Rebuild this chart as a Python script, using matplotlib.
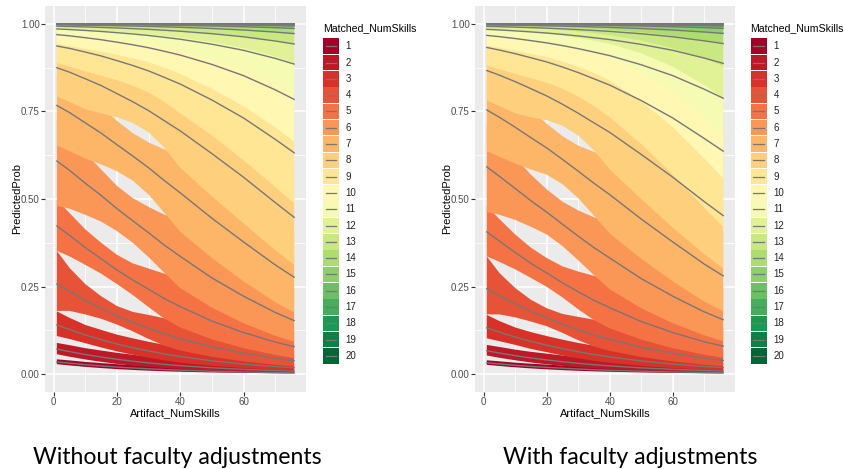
import numpy as np
import matplotlib
matplotlib.use("Agg")
import matplotlib.pyplot as plt
from matplotlib.patches import Rectangle
from matplotlib.lines import Line2D

plt.rcParams['font.family'] = ['Liberation Sans', 'DejaVu Sans']

W, H = 845, 469

artifact_numskills = [1, 5, 10, 15, 20, 25, 30, 35, 40, 50, 60, 70, 76]
matched_numskills = list(range(1, 21))

# ---- Without faculty adjustments: predicted probability and band per Matched_NumSkills ----
prob_without = [
    [.0353, .0317, .0274, .0239, .0206, .0180, .0157, .0135, .0118, .0088, .0067, .0050, .0042],
    [.0718, .0648, .0563, .0493, .0427, .0374, .0326, .0282, .0246, .0185, .0141, .0106, .0089],
    [.1407, .1279, .1121, .0989, .0863, .0759, .0667, .0579, .0508, .0384, .0293, .0221, .0187],
    [.2573, .2369, .2109, .1885, .1666, .1482, .1313, .1152, .1016, .0781, .0601, .0457, .0388],
    [.4231, .3965, .3612, .3296, .2974, .2689, .2424, .2159, .1931, .1519, .1192, .0920, .0788],
    [.6083, .5818, .5449, .5100, .4725, .4378, .4037, .3682, .3363, .2749, .2228, .1765, .1532],
    [.7667, .7465, .7171, .6878, .6548, .6225, .5890, .5523, .5175, .4452, .3775, .3122, .2769],
    [.8744, .8618, .8429, .8235, .8006, .7773, .7521, .7231, .6942, .6295, .5622, .4900, .4477],
    [.9364, .9296, .9191, .9080, .8947, .8808, .8653, .8469, .8278, .7824, .7311, .6704, .6318],
    [.9689, .9654, .9600, .9543, .9473, .9399, .9315, .9213, .9105, .8839, .8519, .8115, .7842],
    [.9851, .9834, .9808, .9779, .9744, .9707, .9664, .9612, .9557, .9416, .9241, .9011, .8849],
    [.9929, .9921, .9908, .9894, .9878, .9859, .9839, .9813, .9785, .9715, .9627, .9507, .9421],
    [.9966, .9962, .9956, .9950, .9942, .9933, .9923, .9911, .9897, .9863, .9820, .9761, .9718],
    [.9984, .9982, .9979, .9976, .9972, .9968, .9964, .9958, .9951, .9935, .9914, .9886, .9865],
    [.9992, .9991, .9990, .9989, .9987, .9985, .9983, .9980, .9977, .9969, .9959, .9946, .9936],
    [.9996, .9996, .9995, .9995, .9994, .9993, .9992, .9991, .9989, .9985, .9981, .9974, .9969],
    [.9998, .9998, .9998, .9998, .9997, .9997, .9996, .9996, .9995, .9993, .9991, .9988, .9986],
    [.9999, .9999, .9999, .9999, .9999, .9998, .9998, .9998, .9998, .9997, .9996, .9995, .9993],
    [1.000, 1.000, 1.000, .9999, .9999, .9999, .9999, .9999, .9999, .9999, .9998, .9998, .9997],
    [1.000, 1.000, 1.000, 1.000, 1.000, 1.000, 1.000, 1.000, 1.000, .9999, .9999, .9999, .9999],
]
lower_without = [
    [.0290, .0253, .0212, .0178, .0148, .0124, .0104, .0087, .0073, .0054, .0040, .0029, .0024],
    [.0573, .0502, .0423, .0356, .0296, .0248, .0210, .0177, .0151, .0111, .0083, .0061, .0050],
    [.1091, .1007, .0887, .0766, .0654, .0558, .0474, .0396, .0332, .0241, .0177, .0129, .0107],
    [.1809, .1809, .1708, .1584, .1419, .1224, .1007, .0817, .0679, .0497, .0366, .0269, .0223],
    [.3521, .3363, .3122, .2870, .2573, .2262, .1915, .1584, .1336, .0998, .0745, .0552, .0461],
    [.4800, .4725, .4551, .4354, .4085, .3752, .3340, .2891, .2461, .1900, .1456, .1100, .0928],
    [.6525, .6364, .6154, .5987, .5793, .5523, .5125, .4601, .4061, .3318, .2650, .2059, .1765],
    [.7925, .7773, .7558, .7446, .7330, .7171, .6900, .6457, .5890, .5075, .4305, .3543, .3122],
    [.8880, .8776, .8641, .8519, .8389, .8235, .8038, .7773, .7446, .6814, .6106, .5349, .4875],
    [.9421, .9364, .9282, .9205, .9114, .9011, .8899, .8744, .8569, .8146, .7649, .7047, .6637],
    [.9710, .9680, .9634, .9589, .9535, .9478, .9416, .9328, .9234, .8985, .8676, .8278, .7990],
    [.9855, .9840, .9817, .9794, .9763, .9734, .9698, .9654, .9604, .9473, .9302, .9064, .8880],
    [.9928, .9921, .9909, .9896, .9881, .9865, .9846, .9824, .9798, .9732, .9644, .9521, .9421],
    [.9965, .9961, .9955, .9949, .9941, .9933, .9923, .9912, .9899, .9865, .9820, .9756, .9707],
    [.9982, .9980, .9977, .9973, .9969, .9965, .9960, .9953, .9946, .9928, .9905, .9874, .9851],
    [.9991, .9990, .9989, .9987, .9985, .9982, .9980, .9977, .9973, .9964, .9953, .9937, .9925],
    [.9996, .9995, .9994, .9993, .9992, .9991, .9990, .9989, .9987, .9982, .9976, .9969, .9963],
    [.9998, .9998, .9997, .9997, .9996, .9996, .9996, .9995, .9994, .9992, .9990, .9986, .9981],
    [.9999, .9999, .9999, .9999, .9998, .9998, .9998, .9998, .9997, .9997, .9995, .9994, .9992],
    [1.000, 1.000, .9999, .9999, .9999, .9999, .9999, .9999, .9999, .9998, .9998, .9997, .9996],
]
upper_without = [
    [.0427, .0396, .0353, .0320, .0288, .0261, .0236, .0211, .0189, .0145, .0113, .0088, .0075],
    [.0895, .0832, .0745, .0678, .0613, .0558, .0503, .0448, .0400, .0308, .0239, .0183, .0158],
    [.1795, .1612, .1407, .1267, .1131, .1026, .0928, .0840, .0766, .0607, .0484, .0377, .0326],
    [.3521, .3036, .2573, .2228, .1947, .1780, .1694, .1598, .1495, .1203, .0971, .0766, .0667],
    [.4975, .4601, .4134, .3752, .3407, .3165, .3016, .2870, .2709, .2244, .1854, .1495, .1312],
    [.7231, .6835, .6318, .5842, .5374, .5025, .4775, .4551, .4403, .3799, .3252, .2709, .2424],
    [.8519, .8320, .8006, .7649, .7231, .6878, .6615, .6411, .6271, .5646, .5050, .4428, .4061],
    [.9268, .9176, .9029, .8818, .8545, .8278, .8053, .7892, .7824, .7369, .6857, .6271, .5915],
    [.9648, .9604, .9530, .9443, .9328, .9213, .9097, .8975, .8880, .8581, .8249, .7824, .7558],
    [.9835, .9815, .9781, .9742, .9692, .9641, .9581, .9517, .9453, .9296, .9105, .8859, .8699],
    [.9924, .9914, .9899, .9882, .9861, .9837, .9809, .9779, .9746, .9671, .9577, .9453, .9370],
    [.9965, .9961, .9954, .9946, .9937, .9926, .9914, .9899, .9885, .9848, .9804, .9747, .9710],
    [.9984, .9982, .9979, .9976, .9972, .9967, .9962, .9955, .9948, .9931, .9910, .9882, .9865],
    [.9993, .9992, .9991, .9990, .9987, .9985, .9983, .9980, .9977, .9969, .9959, .9947, .9938],
    [.9997, .9996, .9996, .9995, .9994, .9994, .9993, .9992, .9990, .9987, .9983, .9977, .9972],
    [.9998, .9998, .9998, .9998, .9997, .9997, .9997, .9996, .9995, .9994, .9992, .9990, .9987],
    [.9999, .9999, .9999, .9999, .9999, .9999, .9998, .9998, .9998, .9997, .9996, .9995, .9994],
    [1.000, 1.000, 1.000, 1.000, 1.000, .9999, .9999, .9999, .9999, .9999, .9999, .9998, .9998],
    [1.000, 1.000, 1.000, 1.000, 1.000, 1.000, 1.000, 1.000, 1.000, 1.000, 1.000, 1.000, 1.000],
    [1.000, 1.000, 1.000, 1.000, 1.000, 1.000, 1.000, 1.000, 1.000, 1.000, 1.000, 1.000, 1.000],
]

# ---- With faculty adjustments ----
prob_with = [
    [.0329, .0296, .0258, .0225, .0198, .0173, .0151, .0131, .0115, .0088, .0067, .0051, .0043],
    [.0672, .0607, .0532, .0465, .0411, .0359, .0314, .0274, .0241, .0183, .0141, .0107, .0091],
    [.1324, .1203, .1062, .0937, .0832, .0732, .0642, .0563, .0497, .0381, .0293, .0223, .0190],
    [.2442, .2244, .2010, .1795, .1612, .1431, .1267, .1121, .0998, .0773, .0601, .0461, .0396],
    [.4061, .3799, .3475, .3165, .2891, .2611, .2351, .2109, .1900, .1506, .1192, .0928, .0802],
    [.5915, .5646, .5300, .4950, .4626, .4280, .3941, .3612, .3318, .2729, .2228, .1780, .1558],
    [.7540, .7330, .7047, .6748, .6457, .6130, .5793, .5449, .5125, .4428, .3775, .3143, .2808],
    [.8664, .8532, .8348, .8146, .7941, .7703, .7446, .7171, .6900, .6271, .5622, .4925, .4526],
    [.9321, .9248, .9145, .9029, .8909, .8765, .8606, .8429, .8249, .7808, .7311, .6726, .6365],
    [.9667, .9630, .9577, .9517, .9453, .9376, .9289, .9191, .9089, .8829, .8519, .8131, .7875],
    [.9840, .9822, .9796, .9766, .9734, .9695, .9651, .9600, .9548, .9410, .9241, .9020, .8869],
    [.9924, .9915, .9902, .9888, .9873, .9854, .9832, .9808, .9781, .9713, .9627, .9512, .9433],
    [.9964, .9960, .9954, .9947, .9939, .9930, .9920, .9908, .9895, .9862, .9820, .9763, .9723],
    [.9983, .9981, .9978, .9975, .9971, .9967, .9962, .9956, .9950, .9934, .9914, .9887, .9867],
    [.9992, .9991, .9990, .9988, .9986, .9984, .9982, .9979, .9976, .9969, .9959, .9946, .9937],
    [.9996, .9996, .9995, .9994, .9994, .9993, .9991, .9990, .9989, .9985, .9981, .9975, .9970],
    [.9998, .9998, .9998, .9997, .9997, .9997, .9996, .9996, .9995, .9993, .9991, .9988, .9986],
    [.9999, .9999, .9999, .9999, .9999, .9998, .9998, .9998, .9998, .9997, .9996, .9995, .9994],
    [1.000, 1.000, 1.000, .9999, .9999, .9999, .9999, .9999, .9999, .9999, .9998, .9998, .9998],
    [1.000, 1.000, 1.000, 1.000, 1.000, 1.000, 1.000, 1.000, 1.000, .9999, .9999, .9999, .9999],
]
lower_with = [
    [.0271, .0236, .0200, .0168, .0142, .0119, .0100, .0084, .0072, .0053, .0040, .0029, .0024],
    [.0537, .0470, .0400, .0336, .0285, .0239, .0202, .0171, .0148, .0110, .0083, .0061, .0051],
    [.1025, .0945, .0840, .0724, .0630, .0537, .0457, .0384, .0326, .0239, .0177, .0130, .0109],
    [.1708, .1708, .1625, .1506, .1371, .1182, .0971, .0794, .0667, .0493, .0366, .0271, .0228],
    [.3363, .3208, .2994, .2749, .2497, .2193, .1854, .1545, .1312, .0989, .0745, .0558, .0470],
    [.4626, .4551, .4403, .4207, .3989, .3659, .3252, .2829, .2424, .1885, .1456, .1111, .0945],
    [.6365, .6201, .6011, .5842, .5695, .5424, .5025, .4526, .4013, .3296, .2650, .2075, .1795],
    [.7808, .7649, .7446, .7330, .7251, .7089, .6814, .6388, .5842, .5000, .4182, .3430, .3015],
    [.8808, .8699, .8569, .8442, .8320, .8146, .7925, .7649, .7330, .6570, .5695, .4750, .4207],
    [.9376, .9315, .9227, .9137, .9047, .8919, .8776, .8593, .8375, .7790, .7047, .6154, .5597],
    [.9683, .9648, .9597, .9539, .9478, .9393, .9296, .9168, .9029, .8618, .8053, .7311, .6814],
    [.9839, .9818, .9790, .9754, .9715, .9661, .9597, .9517, .9427, .9160, .8776, .8249, .7875],
    [.9918, .9907, .9891, .9870, .9846, .9815, .9777, .9729, .9674, .9517, .9296, .9002, .8797],
    [.9958, .9952, .9943, .9932, .9918, .9901, .9881, .9857, .9829, .9756, .9661, .9535, .9448],
    [.9979, .9976, .9972, .9966, .9959, .9951, .9941, .9928, .9914, .9878, .9831, .9768, .9723],
    [.9990, .9988, .9986, .9983, .9980, .9976, .9970, .9964, .9957, .9939, .9916, .9885, .9861],
    [.9995, .9994, .9993, .9992, .9990, .9988, .9985, .9982, .9978, .9967, .9955, .9936, .9930],
    [.9998, .9998, .9997, .9996, .9996, .9995, .9994, .9993, .9991, .9986, .9980, .9972, .9967],
    [.9999, .9999, .9999, .9998, .9998, .9998, .9997, .9997, .9996, .9994, .9991, .9988, .9985],
    [1.000, 1.000, .9999, .9999, .9999, .9999, .9999, .9998, .9998, .9997, .9996, .9995, .9993],
]
upper_with = [
    [.0399, .0370, .0332, .0302, .0277, .0251, .0228, .0204, .0185, .0143, .0113, .0088, .0077],
    [.0838, .0780, .0704, .0641, .0590, .0537, .0484, .0435, .0392, .0305, .0239, .0185, .0161],
    [.1694, .1519, .1336, .1203, .1091, .0989, .0895, .0817, .0752, .0601, .0484, .0381, .0332],
    [.3363, .2891, .2461, .2125, .1885, .1722, .1638, .1558, .1468, .1192, .0971, .0773, .0679],
    [.4800, .4428, .3989, .3612, .3318, .3079, .2932, .2808, .2669, .2228, .1854, .1506, .1336],
    [.7089, .6682, .6177, .5695, .5275, .4925, .4675, .4477, .4354, .3775, .3252, .2729, .2461],
    [.8429, .8220, .7908, .7540, .7150, .6792, .6525, .6341, .6225, .5622, .5050, .4452, .4110],
    [.9220, .9121, .8975, .8755, .8494, .8220, .7990, .7841, .7790, .7389, .6964, .6434, .6130],
    [.9623, .9577, .9503, .9410, .9309, .9198, .9089, .8985, .8899, .8688, .8481, .8235, .8085],
    [.9825, .9804, .9772, .9734, .9692, .9648, .9597, .9548, .9507, .9416, .9328, .9220, .9153],
    [.9920, .9911, .9897, .9882, .9866, .9849, .9830, .9813, .9796, .9761, .9729, .9689, .9664],
    [.9964, .9960, .9955, .9949, .9944, .9938, .9931, .9925, .9918, .9905, .9893, .9878, .9867],
    [.9984, .9983, .9980, .9978, .9976, .9974, .9972, .9969, .9967, .9962, .9956, .9947, .9941],
    [.9993, .9992, .9992, .9991, .9990, .9989, .9988, .9987, .9986, .9983, .9979, .9973, .9969],
    [.9997, .9997, .9996, .9996, .9995, .9995, .9994, .9993, .9993, .9992, .9990, .9987, .9985],
    [.9999, .9999, .9998, .9998, .9998, .9998, .9998, .9997, .9997, .9996, .9995, .9994, .9993],
    [.9999, .9999, .9999, .9999, .9999, .9999, .9999, .9999, .9999, .9998, .9998, .9997, .9997],
    [1.000, 1.000, 1.000, 1.000, .9999, .9999, .9999, .9999, .9999, .9999, .9999, .9999, .9999],
    [1.000, 1.000, 1.000, 1.000, 1.000, 1.000, 1.000, 1.000, 1.000, 1.000, 1.000, 1.000, 1.000],
    [1.000, 1.000, 1.000, 1.000, 1.000, 1.000, 1.000, 1.000, 1.000, 1.000, 1.000, 1.000, 1.000],
]

x_ticks = [0, 20, 40, 60]
y_ticks = [0.00, 0.25, 0.50, 0.75, 1.00]
y_tick_labels = ["0.00", "0.25", "0.50", "0.75", "1.00"]

PANEL_BG = "#EBEBEB"
LINE_COL = "#777777"
TICK_COL = "#4D4D4D"
palette = [plt.get_cmap("RdYlGn")(v) for v in np.linspace(0, 1, len(matched_numskills))]

fig = plt.figure(figsize=(W / 100, H / 100), dpi=100)


def fx(px):
    return px / W


def fy(py):
    return 1 - py / H


def draw_panel(box, prob, lower, upper):
    left, top, right, bottom = box
    ax = fig.add_axes([fx(left), fy(bottom), fx(right) - fx(left), fy(top) - fy(bottom)])
    ax.set_facecolor(PANEL_BG)
    ax.set_xlim(-2.75, 79.75)
    ax.set_ylim(-0.0505, 1.0505)
    ax.set_xticks(x_ticks)
    ax.set_xticks([10, 30, 50, 70], minor=True)
    ax.set_yticks(y_ticks)
    ax.set_yticklabels(y_tick_labels)
    ax.set_yticks([0.125, 0.375, 0.625, 0.875], minor=True)
    ax.set_axisbelow(True)
    ax.grid(which="major", color="white", linewidth=1.1)
    ax.grid(which="minor", color="white", linewidth=0.55)
    for s in ax.spines.values():
        s.set_visible(False)
    ax.tick_params(which="major", length=2.6, width=0.8, color="#333333",
                   labelsize=7, labelcolor=TICK_COL, pad=1.2)
    ax.tick_params(which="minor", length=0)
    for i, col in enumerate(palette):
        ax.fill_between(artifact_numskills, lower[i], upper[i], facecolor=col,
                        edgecolor="none", linewidth=0, zorder=2)
    for i in range(len(matched_numskills)):
        ax.plot(artifact_numskills, prob[i], color=LINE_COL, linewidth=1.0,
                solid_joinstyle="round", zorder=3)
    cx = (left + right) / 2
    fig.text(fx(cx), fy(413.5), "Artifact_NumSkills", ha="center", va="center",
             fontsize=8, color="black")
    fig.text(fx(left - 28), fy((top + bottom) / 2), "PredictedProb", ha="center",
             va="center", rotation=90, fontsize=8, color="black")
    return ax


def draw_legend(x0):
    fig.text(fx(x0 - 0.5), fy(28), "Matched_NumSkills", ha="left", va="center",
             fontsize=7.6, color="black")
    pitch = 16.3
    for i, col in enumerate(palette):
        top = 38.5 + pitch * i
        fig.add_artist(Rectangle((fx(x0), fy(top + pitch - 0.8)), fx(15.6),
                                 (pitch - 0.8) / H, transform=fig.transFigure,
                                 facecolor=col, edgecolor="none"))
        yc = fy(top + (pitch - 0.8) / 2)
        fig.add_artist(Line2D([fx(x0 + 2.5), fx(x0 + 13)], [yc, yc],
                              transform=fig.transFigure, color=LINE_COL,
                              linewidth=0.9))
        fig.text(fx(x0 + 22.5), yc, str(matched_numskills[i]), ha="left",
                 va="center", fontsize=7, color="#222222")


draw_panel((45, 6, 306, 392), prob_without, lower_without, upper_without)
draw_legend(323.3)
draw_panel((475, 6, 735, 392), prob_with, lower_with, upper_with)
draw_legend(751)

fig.text(fx(177), fy(464), "Without faculty adjustments", ha="center",
         va="baseline", fontsize=16.6, family=["Lato", "DejaVu Sans"], color="black")
fig.text(fx(630), fy(464), "With faculty adjustments", ha="center",
         va="baseline", fontsize=16.6, family=["Lato", "DejaVu Sans"], color="black")

fig.savefig("out.png", dpi=100, facecolor="white")
